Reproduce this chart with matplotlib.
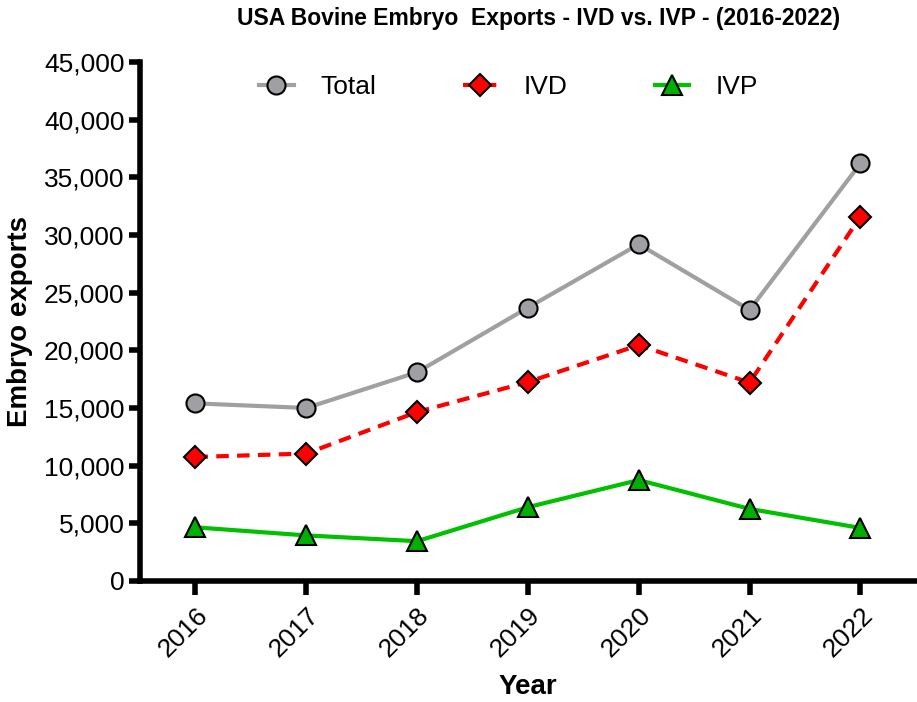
import matplotlib.pyplot as plt
from matplotlib.ticker import FuncFormatter

years = [2016, 2017, 2018, 2019, 2020, 2021, 2022]
total = [15400, 15000, 18100, 23700, 29200, 23500, 36200]
ivd = [10750, 11050, 14650, 17250, 20450, 17200, 31600]
ivp = [4650, 3950, 3450, 6400, 8750, 6250, 4600]

plt.rcParams["font.family"] = ["Liberation Sans", "DejaVu Sans"]

fig = plt.figure(figsize=(9.17, 7.02), dpi=100)
ax = fig.add_axes([0.1527, 0.1724, 0.846, 0.7393])

ax.plot(years, total, color="#a0a0a0", lw=3, marker="o", ms=13,
        mfc="#a0a0a4", mec="black", mew=1.5, label="Total", zorder=3)
ax.plot(years, ivd, color="#ff0000", lw=3, ls=(0, (3, 2)), marker="D", ms=11,
        mfc="#ff0000", mec="black", mew=1.5, label="IVD", zorder=3)
ax.plot(years, ivp, color="#00c000", lw=3, marker="^", ms=14,
        mfc="#00b000", mec="black", mew=1.5, label="IVP", zorder=3)

ax.set_xlim(2015.5, 2022.5)
ax.set_ylim(0, 45000)
ax.set_yticks(range(0, 45001, 5000))
ax.yaxis.set_major_formatter(FuncFormatter(lambda v, p: f"{int(v):,}"))
ax.set_xticks(years)
ax.set_xticklabels([str(y) for y in years], rotation=45, ha="right",
                   rotation_mode="anchor")

for side in ("top", "right"):
    ax.spines[side].set_visible(False)
for side in ("left", "bottom"):
    ax.spines[side].set_linewidth(4)
ax.tick_params(axis="both", width=4, length=10, labelsize=19, direction="out")
ax.tick_params(axis="y", length=8, pad=3)
ax.tick_params(axis="x", pad=6)

ax.set_xlabel("Year", fontsize=20, fontweight="bold", labelpad=9)
ax.set_ylabel("Embryo exports", fontsize=20, fontweight="bold", labelpad=8)
fig.text(0.587, 0.973, "USA Bovine Embryo  Exports - IVD vs. IVP - (2016-2022)",
         ha="center", va="center", fontsize=16.5, fontweight="bold")

ax.legend(loc="upper center", bbox_to_anchor=(0.475, 1.02), ncol=3, frameon=False,
          fontsize=19, handlelength=1.3, columnspacing=3.3, handletextpad=1.0)

fig.savefig("out.png", dpi=100)
